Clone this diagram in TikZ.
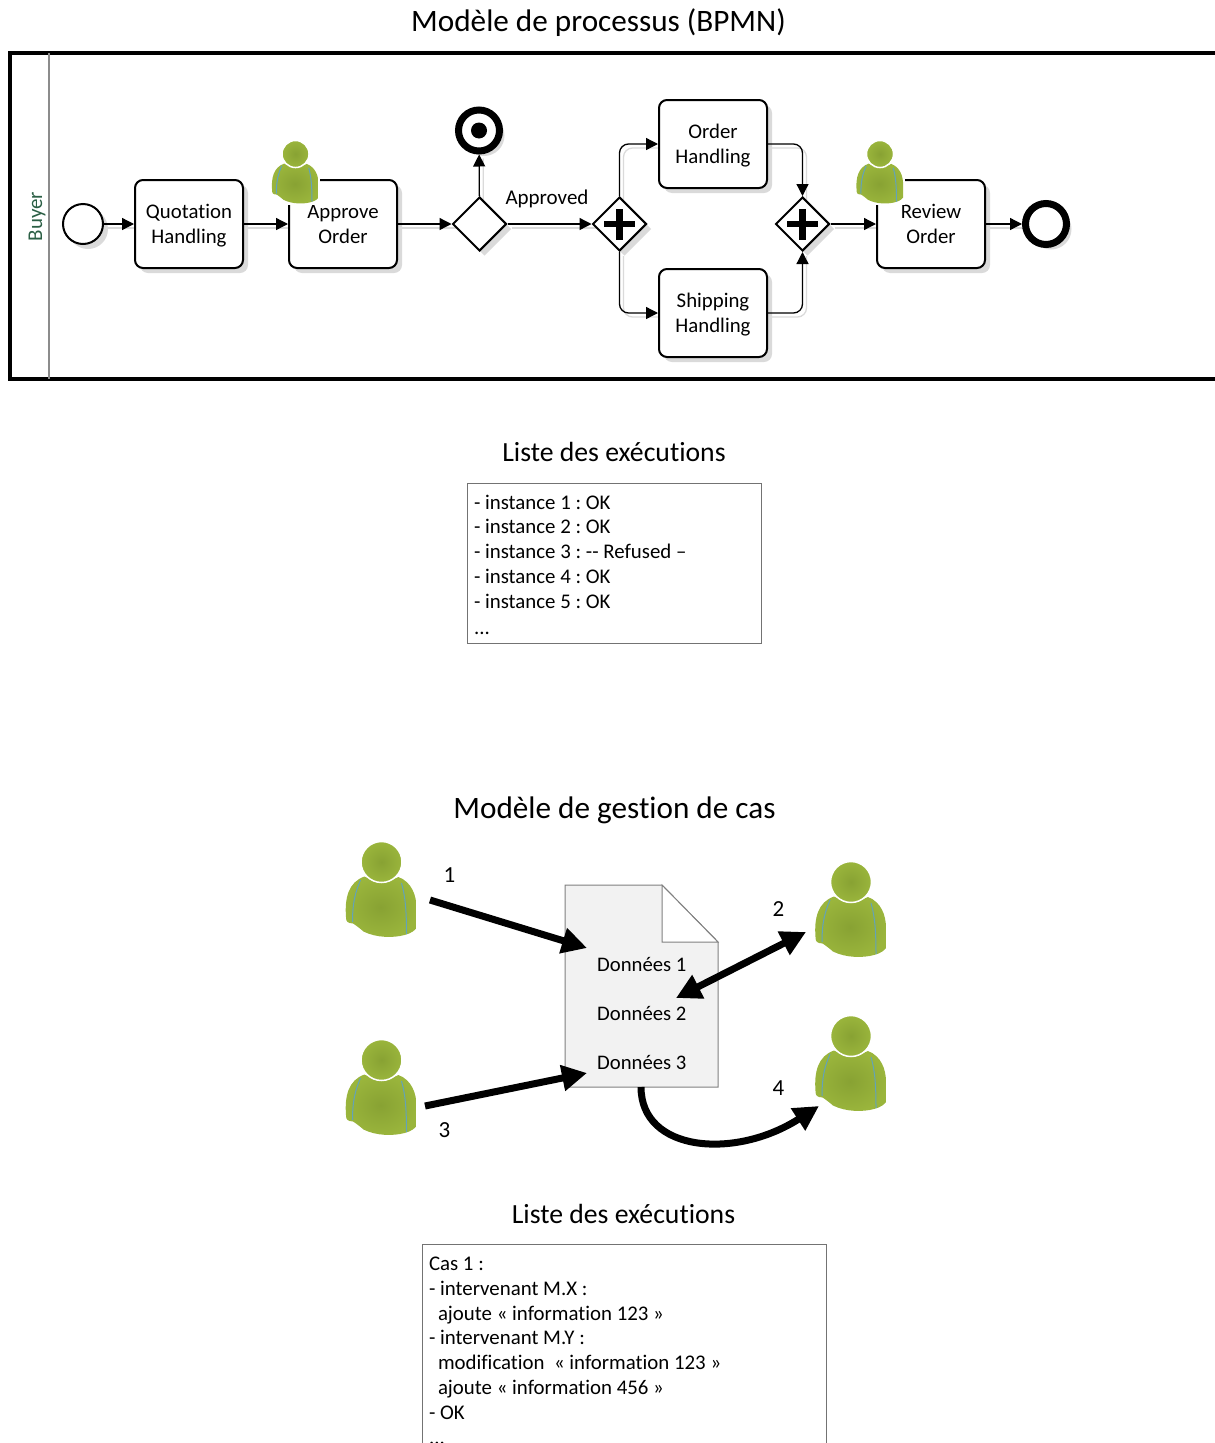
\documentclass[tikz,border=0pt]{standalone}
\usepackage{fontspec}
\setmainfont[Ligatures={NoCommon}]{Carlito}
\usetikzlibrary{arrows.meta,shadows,backgrounds,positioning,shapes.geometric}
\definecolor{pgreen}{HTML}{9AB53C}
\definecolor{pgreenin}{HTML}{88A233}
\definecolor{pblue}{HTML}{62A3BA}
\definecolor{shade}{HTML}{DADADA}
\newcommand{\tasktxt}[2]{\rule{0pt}{20pt}#1\\#2\rule[-6.5pt]{0pt}{6.5pt}}
\frenchspacing
\tikzset{
  bshadow/.style={drop shadow={shadow xshift=5pt,shadow yshift=-5pt,fill=shade,opacity=1}},
  task/.style={draw=black,line width=2pt,rounded corners=8pt,fill=white,minimum width=108pt,minimum height=88pt,inner sep=0pt,align=center,font=\fontsize{20.8}{25}\selectfont,bshadow},
  gate/.style={draw=black,line width=2pt,fill=white,diamond,aspect=1,minimum width=54pt,minimum height=54pt,inner sep=0pt,bshadow},
  plusbar/.style={fill=black,inner sep=0pt},
  flow/.style={draw=black,line width=1.3pt,rounded corners=9pt,-{Triangle[length=12pt,width=12pt]}},
  flowsh/.style={draw=shade,line width=1.3pt,rounded corners=9pt,transform canvas={xshift=4pt,yshift=-4pt}},
  title/.style={font=\fontsize{31.2}{36}\selectfont,inner sep=0pt},
  subtitle/.style={font=\fontsize{27.7}{32}\selectfont,inner sep=0pt},
  listbox/.style={draw=black!55,line width=1pt,fill=white,anchor=north west,align=flush left,inner xsep=7pt,inner ysep=0pt,font=\fontsize{20.85}{24.8}\selectfont},
  datatxt/.style={font=\fontsize{20.7}{24}\selectfont,anchor=west,inner sep=0pt},
  numtxt/.style={font=\fontsize{23}{28}\selectfont,inner sep=0pt},
  bigarrow/.style={draw=black,line width=7pt,-{Triangle[length=25pt,width=25pt]}},
  person/.pic={
    \path[inner color=pgreenin,outer color=pgreen] (-17,14.5) .. controls (-8,20) and (8,20) .. (17,15)
      .. controls (30,20) and (35,33) .. (35,46) -- (35,66) .. controls (30,72) and (25,72) .. (23,73)
      .. controls (12,76) and (-5,76) .. (-18,69.5) .. controls (-22,66) and (-26,63) .. (-28.5,61.5)
      .. controls (-34,61) and (-35.5,60) .. (-35.5,55) .. controls (-37,36) and (-33,20) .. (-17,14.5) -- cycle;
    \draw[white,line width=1.5pt,inner color=pgreenin,outer color=pgreen] (0,0) circle (20.5);
    \draw[pblue,line width=1pt] (-21,18) .. controls (-26,30) and (-29,40) .. (-29,60);
    \draw[pblue,line width=1pt] (20,21) .. controls (24,35) and (25,50) .. (25,72);
  },
}
\begin{document}
\begin{tikzpicture}[x=1pt,y=-1pt]
\useasboundingbox (0,0) rectangle (1215,1443);
\node[title] (t1) at (598.5,23) {Modèle de processus (BPMN)};
% pool
\draw[line width=4pt,line join=miter] (1215,53) -- (10,53) -- (10,379) -- (1215,379);
\coordinate (laneT) at (49,53);
\coordinate (laneB) at (49,379);
\draw[black!45,line width=1.2pt] (laneT) -- (laneB);
\definecolor{buyerc}{HTML}{2B5F45}
\node[rotate=90,font=\fontsize{21}{24}\selectfont,text=buyerc,inner sep=0pt] (buyer) at (37,216.5) {Buyer};
% events
\node[circle,draw=black,line width=2pt,fill=white,minimum size=40pt,inner sep=0pt,bshadow] (start) at (83,224) {};
\node[task] (quot) at (189,224) {\tasktxt{Quotation}{Handling}};
\node[task] (appr) at (343,224) {\tasktxt{Approve}{Order}};
\node[gate] (gx) at (479.5,224) {};
\node[circle,draw=black,line width=7pt,fill=white,minimum size=41pt,inner sep=0pt,bshadow] (term) at (479,130.5) {};
\node[circle,fill=black,minimum size=16pt,inner sep=0pt] (termdot) at (term.center) {};
\node[gate] (gp1) at (619.5,224) {};
\node[gate] (gp2) at (802.5,224) {};
\foreach \g in {gp1,gp2}{
  \node[plusbar,minimum width=31pt,minimum height=6.5pt] at (\g) {};
  \node[plusbar,minimum width=6.5pt,minimum height=31pt] at (\g) {};
}
\node[task] (order) at (713,144) {\tasktxt{Order}{Handling}};
\node[task] (ship) at (713,313) {\tasktxt{Shipping}{Handling}};
\node[task] (rev) at (931,224) {\tasktxt{Review}{Order}};
\node[circle,draw=black,line width=7pt,fill=white,minimum size=41pt,inner sep=0pt,bshadow] (endev) at (1046,224) {};
\node[font=\fontsize{21}{24}\selectfont,inner sep=0pt] (apl) at (547,199) {Approved};
% task persons
\fill[white] (272,140) rectangle (320,205);
\pic[scale=.66,transform shape] (pa) at (295.5,154) {person};
\fill[white] (857,140) rectangle (905,205);
\pic[scale=.66,transform shape] (pr) at (880,154) {person};
% connector shadows
\begin{scope}[on background layer]
\draw[flowsh] (start) -- (quot);
\draw[flowsh] (quot) -- (appr);
\draw[flowsh] (appr) -- (gx);
\draw[flowsh] (gx) -- (term);
\draw[flowsh] (gx) -- (gp1);
\draw[flowsh] (gp1.north) |- (order.west);
\draw[flowsh] (gp1.south) |- (ship.west);
\draw[flowsh] (order.east) -| (gp2.north);
\draw[flowsh] (ship.east) -| (gp2.south);
\draw[flowsh] (gp2) -- (rev);
\draw[flowsh] (rev) -- (endev);
\end{scope}
% connectors
\draw[flow] (start) -- (quot);
\draw[flow] (quot) -- (appr);
\draw[flow] (appr) -- (gx);
\draw[flow] (gx) -- (term);
\draw[flow] (gx) -- (gp1);
\draw[flow] (gp1.north) |- (order.west);
\draw[flow] (gp1.south) |- (ship.west);
\draw[flow] (order.east) -| (gp2.north);
\draw[flow] (ship.east) -| (gp2.south);
\draw[flow] (gp2) -- (rev);
\draw[flow] (rev) -- (endev);
% list 1
\node[subtitle] (t2) at (614,452) {Liste des exécutions};
\node[listbox,minimum width=294pt,minimum height=158.5pt,text width=280pt] (l1) at (466.5,482.5) {%
\rule{0pt}{26pt}- instance 1 : OK\\
- instance 2 : OK\\
- instance 3 : -{}- Refused –\\
- instance 4 : OK\\
- instance 5 : OK\\[1pt]
...\rule[-9pt]{0pt}{9pt}};
% case model
\node[title] (t3) at (614.5,810) {Modèle de gestion de cas};
\draw[black!50,line width=1pt,fill=black!5] (565,885) coordinate (dA) -- (662,885) coordinate (dB) -- (718,942) coordinate (dC) -- (718,1087) coordinate (dD) -- (565,1087) coordinate (dE) -- cycle;
\draw[black!50,line width=1pt,fill=white] (dB) -- (662,942) -- (dC) -- cycle;
\node[datatxt] (d1) at (597,964.5) {Données 1};
\node[datatxt] (d2) at (597,1013.5) {Données 2};
\node[datatxt] (d3) at (597,1062.5) {Données 3};
\pic (p1) at (381.5,862) {person};
\pic (p2) at (851,882) {person};
\pic (p3) at (381.5,1060) {person};
\pic (p4) at (851,1036) {person};
\coordinate (a1s) at (430,900);
\coordinate (a1e) at (587,948);
\coordinate (a3s) at (425,1106);
\coordinate (a3e) at (587,1073);
\coordinate (a2s) at (806,932);
\coordinate (a2e) at (676,998);
\coordinate (a4s) at (641,1087);
\coordinate (a4e) at (819,1106);
\draw[bigarrow] (a1s) -- (a1e);
\draw[bigarrow] (a3s) -- (a3e);
\draw[bigarrow,{Triangle[length=25pt,width=25pt]}-{Triangle[length=25pt,width=25pt]}] (a2s) -- (a2e);
\draw[bigarrow] (a4s) .. controls (641,1152) and (735,1160) .. (a4e);
\node[numtxt] (n1) at (449.5,875) {1};
\node[numtxt] (n2) at (778.5,909) {2};
\node[numtxt] (n3) at (444.5,1130) {3};
\node[numtxt] (n4) at (778.5,1088) {4};
% list 2
\node[subtitle] (t4) at (623.5,1214) {Liste des exécutions};
\node[listbox,minimum width=404pt,minimum height=230pt,text width=390pt] (l2) at (421.5,1244) {%
\rule{0pt}{25.5pt}Cas 1 :\\
- intervenant M.X :\\
\hspace*{9pt}ajoute « information 123 »\\
- intervenant M.Y :\\
\hspace*{9pt}modification~ « information 123 »\\
\hspace*{9pt}ajoute « information 456 »\\
- OK\\
...\rule[-30pt]{0pt}{30pt}};
\end{tikzpicture}
\end{document}
